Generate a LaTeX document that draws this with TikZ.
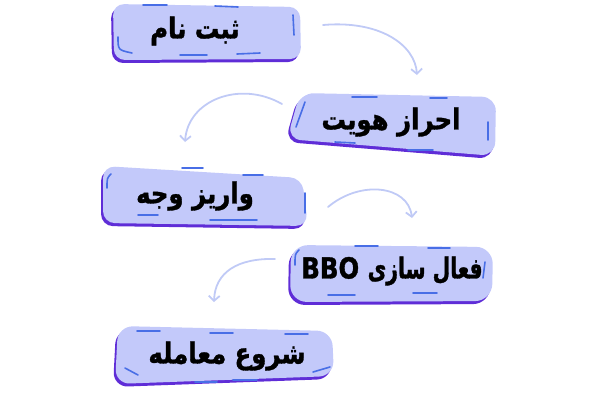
\documentclass[tikz,border=0pt]{standalone}
\usepackage{fontspec}
\newfontfamily\fafont[Script=Arabic, FakeStretch=0.84, FakeBold=1.2]{DejaVu Sans}
\newfontfamily\fanarrow[Script=Arabic, FakeStretch=0.7, FakeBold=1.2]{DejaVu Sans}
\TeXXeTstate=1
\usetikzlibrary{arrows.meta}
\definecolor{boxfill}{RGB}{195,201,250}
\definecolor{boxdash}{RGB}{72,110,230}
\definecolor{boxedge}{RGB}{95,45,215}
\definecolor{flowline}{RGB}{192,202,246}
\tikzset{
  stepfill/.style={fill=boxfill},
  stepedge/.style={fill=boxedge, shift={(-2,3)}},
  stepdash/.style={draw=boxdash, line width=1.6pt},
  steptext/.style={font=\fafont\bfseries\fontsize{29}{32}\selectfont, inner sep=0pt},
  flow/.style={draw=flowline, line width=1.8pt, ->}
}
\begin{document}
\begin{tikzpicture}[x=1pt, y=-1pt, line cap=round, line join=round, >={Straight Barb[length=5pt,width=11pt]}]
	\useasboundingbox (0,0) rectangle (600,400);
	% box 1
	\fill[stepedge, rounded corners=11] (113,4)--(300,7)--(301,59)--(114,60)--cycle;
	\fill[stepfill, rounded corners=11] (113,4)--(300,7)--(301,59)--(114,60)--cycle;
	\draw[stepdash] (143,5)--(167,5); \draw[stepdash] (215,6)--(238,7);
	\draw[stepdash] (293,15)--(294,35);
	\draw[stepdash] (118,37) .. controls (118,50) .. (132,53);
	\draw[stepdash] (180,55)--(207,55); \draw[stepdash] (237,54)--(260,53);
	% box 2
	\fill[stepedge, rounded corners=14] (300,93)--(496,97)--(495,156)--(287,139)--cycle;
	\fill[stepfill, rounded corners=14] (300,93)--(496,97)--(495,156)--(287,139)--cycle;
	\draw[stepdash] (352,97)--(377,97); \draw[stepdash] (430,98)--(447,98);
	\draw[stepdash] (305,102)--(296,127);
	\draw[stepdash] (488,122)--(488,140);
	\draw[stepdash] (335,142)--(355,143); \draw[stepdash] (408,150)--(433,150);
	% box 3
	\fill[stepedge, rounded corners=12] (103,166)--(302,178)--(308,226)--(103,223)--cycle;
	\fill[stepfill, rounded corners=12] (103,166)--(302,178)--(308,226)--(103,223)--cycle;
	\draw[stepdash] (182,168)--(203,168); \draw[stepdash] (243,175)--(263,175);
	\draw[stepdash] (111,174) .. controls (107,178) .. (107,188);
	\draw[stepdash] (305,193)--(305,213);
	\draw[stepdash] (138,215)--(158,215); \draw[stepdash] (210,220)--(257,220);
	% box 4
	\fill[stepedge, rounded corners=17] (291,245)--(493,247)--(492,301)--(290,302)--cycle;
	\fill[stepfill, rounded corners=17] (291,245)--(493,247)--(492,301)--(290,302)--cycle;
	\draw[stepdash] (355,246)--(378,246); \draw[stepdash] (428,248)--(450,248);
	\draw[stepdash] (299,250) .. controls (295,254) .. (295,265);
	\draw[stepdash] (485,262)--(483,278);
	\draw[stepdash] (328,295)--(355,295); \draw[stepdash] (413,293)--(437,293);
	% box 5
	\fill[stepedge, rounded corners=15] (118,326)--(332,331)--(334,376)--(115,384)--cycle;
	\fill[stepfill, rounded corners=15] (118,326)--(332,331)--(334,376)--(115,384)--cycle;
	\draw[stepdash] (137,331)--(160,331); \draw[stepdash] (210,333)--(233,333);
	\draw[stepdash] (285,334)--(308,334);
	\draw[stepdash] (125,368)--(138,375);
	\draw[stepdash] (195,382)--(217,382); \draw[stepdash] (233,380)--(257,380);
	\draw[stepdash] (313,372)--(330,367);
	% labels
	\node[steptext] (sabt) at (195,31) {\beginR ثبت نام\endR};
	\node[steptext] (ehraz) at (391,122) {\beginR احراز هویت\endR};
	\node[steptext] (variz) at (195,196) {\beginR واریز وجه\endR};
	\node[steptext] (bbo) at (392,271) {\beginR{\fanarrow فعال سازی} \beginL BBO\endL\endR};
	\node[steptext] (shoru) at (227,356) {\beginR شروع معامله\endR};
	% connectors
	\coordinate (s1) at (323,25); \coordinate (e1) at (417,75);
	\coordinate (s2) at (282,104); \coordinate (e2) at (185,142);
	\coordinate (s3) at (328,207); \coordinate (e3) at (412,218);
	\coordinate (s4) at (275,259); \coordinate (e4) at (214,302);
	\draw[flow] (s1) .. controls (380,20) and (415,45) .. (e1);
	\draw[flow] (s2) .. controls (240,80) and (188,100) .. (e2);
	\draw[flow] (s3) .. controls (360,180) and (408,185) .. (e3);
	\draw[flow] (s4) .. controls (238,258) and (215,272) .. (e4);
\end{tikzpicture}
\end{document}
